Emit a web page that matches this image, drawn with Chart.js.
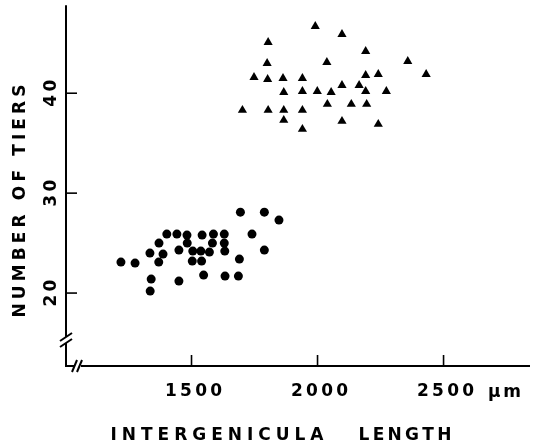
<!DOCTYPE html>
<html><head><meta charset="utf-8">
<script src="https://cdn.jsdelivr.net/npm/chart.js@4/dist/chart.umd.min.js"></script>
<style>html,body{margin:0;padding:0;background:#fff;} canvas{display:block;}</style>
</head><body>
<canvas id="c" width="542" height="447"></canvas>
<script>
// ---- data ----
const circleX = [1220,1276,1335,1371,1402,1442,1482,1483,1450,1387,1370,1340,1336,1450,1542,1587,1630,1583,1630,1632,1505,1537,1571,1503,1540,1548,1633,1686,1690,1694,1789,1847,1740,1789];
const circleY = [23.1,23.0,24.0,25.0,25.9,25.9,25.8,25.0,24.3,23.9,23.1,21.4,20.2,21.2,25.8,25.9,25.9,25.0,25.0,24.2,24.2,24.2,24.1,23.2,23.2,21.8,21.7,21.7,23.4,28.1,28.1,27.3,25.9,24.3];
const triX = [1991,2097,1804,2191,1800,2037,2358,2431,1748,1802,1863,1940,2191,2241,1866,1940,1999,2054,2097,2165,2191,2273,1702,1804,1866,1940,2039,2134,2195,1866,1940,2097,2241];
const triY = [46.7,45.9,45.1,44.2,43.0,43.1,43.2,41.9,41.6,41.4,41.5,41.5,41.8,41.9,40.1,40.2,40.2,40.1,40.8,40.8,40.2,40.2,38.3,38.3,38.3,38.3,38.9,38.9,38.9,37.3,36.4,37.2,36.9];
const xTicks = [1500, 2000, 2500];
const xTickLabels = ["1500", "2000", "2500"];
const xUnit = "µm";
const yTicks = [20, 30, 40];
const yTickLabels = ["20", "30", "40"];
const xTitleWords = ["INTERGENICULA", "LENGTH"];
const yTitle = "NUMBER OF TIERS";

const toPts = (xs, ys) => xs.map((x, i) => ({x: x, y: ys[i]}));

const FONT = "bold 17px 'DejaVu Sans', 'Liberation Sans', sans-serif";

function spacedText(ctx, text, cx, cy, targetW) {
  const chars = [...text];
  const widths = chars.map(c => ctx.measureText(c).width);
  const w0 = widths.reduce((a, b) => a + b, 0);
  const sp = chars.length > 1 ? (targetW - w0) / (chars.length - 1) : 0;
  let x = cx - targetW / 2;
  ctx.textAlign = 'left';
  ctx.textBaseline = 'middle';
  chars.forEach((c, i) => { ctx.fillText(c, x, cy); x += widths[i] + sp; });
}

const axesPlugin = {
  id: 'axesPlugin',
  afterDraw(chart) {
    const ctx = chart.ctx;
    const xs = chart.scales.x, ys = chart.scales.y;
    const ax = xs.left, ay = ys.bottom, top = ys.top, right = xs.right;
    ctx.save();
    ctx.strokeStyle = '#000';
    ctx.fillStyle = '#000';
    ctx.lineCap = 'butt';
    const line = (x1, y1, x2, y2, w) => { ctx.lineWidth = w; ctx.beginPath(); ctx.moveTo(x1, y1); ctx.lineTo(x2, y2); ctx.stroke(); };
    // y axis with break
    line(ax, top, ax, ay - 29, 2);
    line(ax - 6, ay - 25, ax + 6, ay - 33, 2);
    line(ax - 6, ay - 19, ax + 6, ay - 27, 2);
    line(ax, ay - 23, ax, ay + 1, 2);
    // x axis with break
    line(ax - 1, ay, ax + 8, ay, 2);
    line(ax + 6, ay + 6, ax + 11, ay - 6, 2);
    line(ax + 11, ay + 6, ax + 16, ay - 6, 2);
    line(ax + 15, ay, right, ay, 2);
    // ticks
    yTicks.forEach(v => { const p = ys.getPixelForValue(v); line(ax, p, ax + 11, p, 1.6); });
    xTicks.forEach(v => { const p = xs.getPixelForValue(v); line(p, ay, p, ay - 11, 1.6); });
    ctx.font = FONT;
    // x tick labels
    xTicks.forEach((v, i) => {
      const p = xs.getPixelForValue(v);
      spacedText(ctx, xTickLabels[i], p + 2, ay + 26, 57);
    });
    const p25 = xs.getPixelForValue(xTicks[xTicks.length - 1]);
    spacedText(ctx, xUnit, p25 + 61, ay + 27, 33);
    // y tick labels (rotated)
    yTicks.forEach((v, i) => {
      const p = ys.getPixelForValue(v);
      ctx.save(); ctx.translate(ax - 14, p); ctx.rotate(-Math.PI / 2);
      spacedText(ctx, yTickLabels[i], 0, 0, 27);
      ctx.restore();
    });
    // titles
    spacedText(ctx, xTitleWords[0], 217, 436, 213);
    spacedText(ctx, xTitleWords[1], 405, 436, 93);
    ctx.save(); ctx.translate(21, 201); ctx.rotate(-Math.PI / 2);
    spacedText(ctx, yTitle, 0, 0, 233);
    ctx.restore();
    ctx.restore();
  }
};

new Chart(document.getElementById('c'), {
  type: 'scatter',
  data: {
    datasets: [
      { label: 'circles', data: toPts(circleX, circleY), pointStyle: 'circle', pointRadius: 4.5, pointBackgroundColor: '#000', pointBorderWidth: 0, borderWidth: 0 },
      { label: 'triangles', data: toPts(triX, triY), pointStyle: 'triangle', pointRadius: 5.3, pointBackgroundColor: '#000', pointBorderWidth: 0, borderWidth: 0 }
    ]
  },
  options: {
    responsive: false,
    animation: false,
    devicePixelRatio: 1,
    clip: false,
    layout: { padding: { left: 66, right: 12, top: 5, bottom: 81 } },
    plugins: { legend: { display: false }, tooltip: { enabled: false } },
    scales: {
      x: { type: 'linear', display: false, min: 1002, max: 2843 },
      y: { type: 'linear', display: false, min: 12.7, max: 48.8 }
    }
  },
  plugins: [axesPlugin]
});
</script>
</body></html>
